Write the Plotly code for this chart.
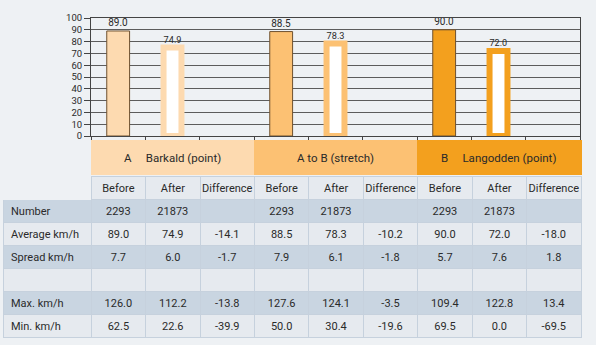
import plotly.graph_objects as go

# ---------------- data ----------------
group_keys = ["A", "AB", "B"]
group_titles = ["A\u00a0\u00a0\u00a0\u00a0\u00a0Barkald (point)", "A to B (stretch)",
                "B\u00a0\u00a0\u00a0\u00a0\u00a0Langodden (point)"]
sub_labels = ["Before", "After", "Difference"]
before_avg = [89.0, 88.5, 90.0]
after_avg = [74.9, 78.3, 72.0]

row_labels = ["Number", "Average km/h", "Spread km/h", "", "Max. km/h", "Min. km/h"]
# per group: columns Before, After, Difference
a_before = ["2293", "89.0", "7.7", "", "126.0", "62.5"]
a_after = ["21873", "74.9", "6.0", "", "112.2", "22.6"]
a_diff = ["", "-14.1", "-1.7", "", "-13.8", "-39.9"]
ab_before = ["2293", "88.5", "7.9", "", "127.6", "50.0"]
ab_after = ["21873", "78.3", "6.1", "", "124.1", "30.4"]
ab_diff = ["", "-10.2", "-1.8", "", "-3.5", "-19.6"]
b_before = ["2293", "90.0", "5.7", "", "109.4", "69.5"]
b_after = ["21873", "72.0", "7.6", "", "122.8", "0.0"]
b_diff = ["", "-18.0", "1.8", "", "13.4", "-69.5"]

y_ticks = [0, 10, 20, 30, 40, 50, 60, 70, 80, 90, 100]

# ---------------- style ----------------
W, H = 596, 345
BG = "#eef1f4"
group_colors = ["#fddab0", "#fcc173", "#f3a01e"]
outline = "#6e512f"
dark_row = "#c9d5e1"
light_row = "#e6eaef"
line_col = "#c6d1dd"
txt = "#2a2a2a"
FONT = "Roboto"

categories = [f"{g}|{s}" for g in group_keys for s in sub_labels]

fig = go.Figure()
fig.add_trace(go.Bar(
    x=[f"{g}|Before" for g in group_keys], y=before_avg,
    width=0.42,
    marker=dict(color=group_colors, line=dict(color=outline, width=1)),
    texttemplate="%{y:.1f}", textposition="outside",
    textfont=dict(family=FONT, size=10, color=txt), cliponaxis=False,
    showlegend=False, hoverinfo="skip"))
fig.add_trace(go.Bar(
    x=[f"{g}|After" for g in group_keys], y=after_avg,
    width=0.33,
    marker=dict(color="#ffffff", line=dict(color=group_colors, width=6)),
    texttemplate="%{y:.1f}", textposition="outside",
    textfont=dict(family=FONT, size=10, color=txt), cliponaxis=False,
    showlegend=False, hoverinfo="skip"))

x0, x1 = 91, 580
y_top, y_bot = 18, 136
fig.update_layout(
    width=W, height=H, autosize=False,
    margin=dict(l=0, r=0, t=0, b=0),
    paper_bgcolor=BG, plot_bgcolor=BG,
    barmode="overlay",
    font=dict(family=FONT, color=txt),
    xaxis=dict(domain=[x0 / W, x1 / W], type="category",
               categoryorder="array", categoryarray=categories,
               range=[-0.5, len(categories) - 0.5],
               showticklabels=False, tickson="boundaries",
               ticks="outside", ticklen=4, tickcolor="#444",
               showline=True, mirror=True, linecolor="#444", linewidth=1,
               showgrid=False, zeroline=False, fixedrange=True),
    yaxis=dict(domain=[1 - y_bot / H, 1 - y_top / H], range=[0, 100],
               tickvals=y_ticks, ticks="outside", ticklen=6, tickcolor="#444",
               tickfont=dict(family=FONT, size=9.5, color=txt),
               showline=True, mirror=True, linecolor="#444", linewidth=1,
               showgrid=True, gridcolor="#5c5c5c", gridwidth=1,
               zeroline=False, automargin=False, fixedrange=True),
)

# group header table (coloured merged cells)
fig.add_trace(go.Table(
    domain=dict(x=[3 / W, 581 / W], y=[1 - 176 / H, 1 - 140 / H]),
    columnwidth=[88, 163, 163, 163],
    header=dict(values=["", "", "", ""],
                fill=dict(color=[BG] + group_colors),
                line=dict(color=[BG] + group_colors, width=1),
                height=36),
    cells=dict(values=[[], [], [], []], height=0),
))
# group titles centred on each group's middle category
for g, title in zip(group_keys, group_titles):
    fig.add_annotation(x=f"{g}|After", xref="x", y=1 - 158 / H, yref="paper",
                       text=title, showarrow=False, xanchor="center", yanchor="middle",
                       font=dict(family=FONT, size=11.5, color=txt))

# body table
cols = [row_labels, a_before, a_after, a_diff, ab_before, ab_after, ab_diff,
        b_before, b_after, b_diff]
row_fill = [dark_row if i % 2 == 0 else light_row for i in range(len(row_labels))]
fig.add_trace(go.Table(
    domain=dict(x=[3 / W, 581 / W], y=[0, 1 - 176 / H]),
    columnwidth=[88] + [163 / 3] * 9,
    header=dict(values=[""] + sub_labels * 3,
                fill=dict(color=[BG] + [light_row] * 9),
                line=dict(color=[BG] + [line_col] * 9, width=1),
                align=["left"] + ["center"] * 9, height=23,
                font=dict(family=FONT, size=11, color=txt)),
    cells=dict(values=cols,
               fill=dict(color=[row_fill] * len(cols)),
               line=dict(color=line_col, width=1),
               align=["left"] + ["center"] * 9, height=23,
               font=dict(family=FONT, size=11, color=txt)),
))

fig.write_html("out.html")
